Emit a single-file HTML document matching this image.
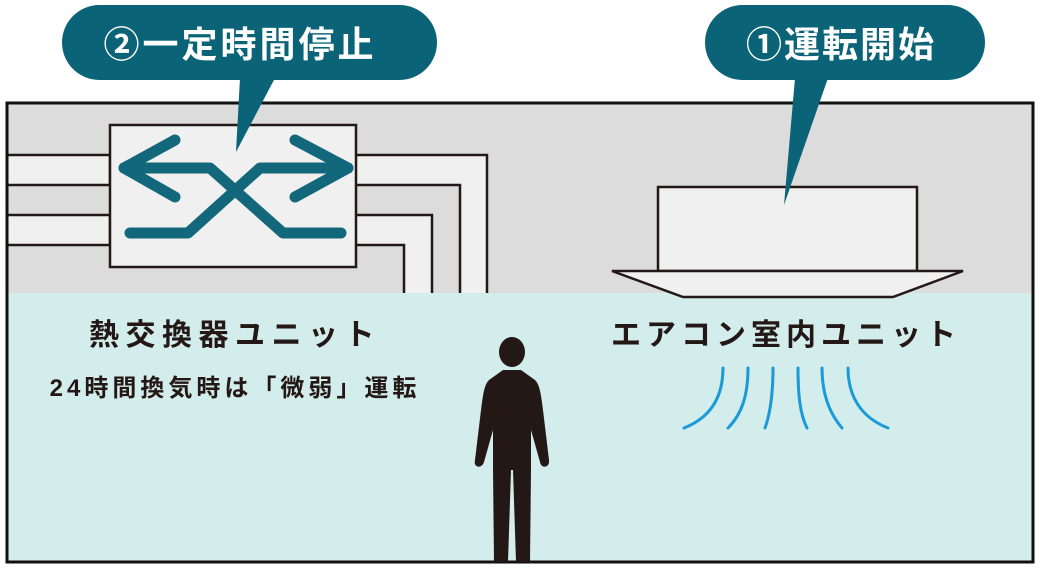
<!DOCTYPE html>
<html><head><meta charset="utf-8"><style>
html,body{margin:0;padding:0;background:#fff;width:1040px;height:580px;overflow:hidden}
svg text{font-family:"Liberation Sans","Noto Sans CJK JP",sans-serif;font-weight:bold}
</style></head><body>
<svg width="1040" height="580" viewBox="0 0 1040 580" xmlns="http://www.w3.org/2000/svg">
<rect x="7" y="103" width="1026" height="190" fill="#dcdcdc"/>
<rect x="7" y="293" width="1026" height="269" fill="#d3ecec"/>
<rect x="7" y="155" width="103" height="30" fill="#f0f0f0" stroke="#231815" stroke-width="2.5"/>
<rect x="7" y="215" width="103" height="30" fill="#f0f0f0" stroke="#231815" stroke-width="2.5"/>
<path d="M356,155 H487 V295 H460 V185 H356" fill="#f0f0f0" stroke="#231815" stroke-width="2.5"/>
<path d="M356,215 H432 V295 H404 V245 H356" fill="#f0f0f0" stroke="#231815" stroke-width="2.5"/>
<rect x="7" y="293" width="1026" height="4" fill="#d3ecec"/>
<rect x="110" y="125" width="246" height="142" fill="#f0f0f0" stroke="#231815" stroke-width="2.5"/>
<g stroke="#0b6378" stroke-width="11" stroke-linecap="round" stroke-linejoin="round" fill="none" opacity="0.97">
<path d="M124,168 H210 L283,233 H341"/>
<path d="M130,233 H188 L260,168 H348"/>
<path d="M175,140 L124,168 L175,197"/>
<path d="M295,140 L348,168 L295,197"/>
</g>
<rect x="658" y="187" width="259" height="84" fill="#f0f0f0" stroke="#231815" stroke-width="2.5"/>
<polygon points="612,271 963,271 893,297 683,297" fill="#f0f0f0" stroke="#231815" stroke-width="2.5"/>
<rect x="7" y="103" width="1026" height="459" fill="none" stroke="#111" stroke-width="3"/>
<rect x="62" y="5" width="375" height="75" rx="37.5" fill="#0b6378"/>
<polygon points="240,78 275,78 236,152" fill="#0b6378"/>
<text x="240" y="57" font-size="36" fill="#fff" text-anchor="middle" letter-spacing="3">②一定時間停止</text>
<rect x="705" y="5" width="280" height="75" rx="37.5" fill="#0b6378"/>
<polygon points="795,78 828,78 784,205" fill="#0b6378"/>
<text x="841" y="57" font-size="36" fill="#fff" text-anchor="middle" letter-spacing="2">①運転開始</text>
<text x="235" y="345" font-size="30" fill="#231815" text-anchor="middle" letter-spacing="6.5">熱交換器ユニット</text>
<text x="235" y="396" font-size="24" fill="#231815" text-anchor="middle" letter-spacing="4">24時間換気時は「微弱」運転</text>
<text x="786" y="345" font-size="30" fill="#231815" text-anchor="middle" letter-spacing="5">エアコン室内ユニット</text>
<g stroke="#1a9ad6" stroke-width="3" fill="none" stroke-linecap="round">
<path d="M723,368 C723,395 712,417 684,428"/>
<path d="M748,368 C748,395 742,414 728,428"/>
<path d="M773,368 C773,395 770,414 765,428"/>
<path d="M798,368 C798,395 800,414 807,428"/>
<path d="M822,368 C822,395 830,414 842,428"/>
<path d="M848,368 C848,395 860,417 888,428"/>
</g>
<g fill="#231815">
<ellipse cx="512" cy="352" rx="13" ry="15"/>
<path d="M503,370 L521,370 L535,380 C540,385 541,395 543,410 L549,460 C550,468 541,469 540,462 L531,430 L531,470 L530,562 L516,562 L513,470 L511,470 L508,562 L494,562 L493,470 L493,430 L484,462 C482,469 473,468 475,460 L481,410 C483,395 484,385 489,380 Z"/>
</g>
</svg>
</body></html>
